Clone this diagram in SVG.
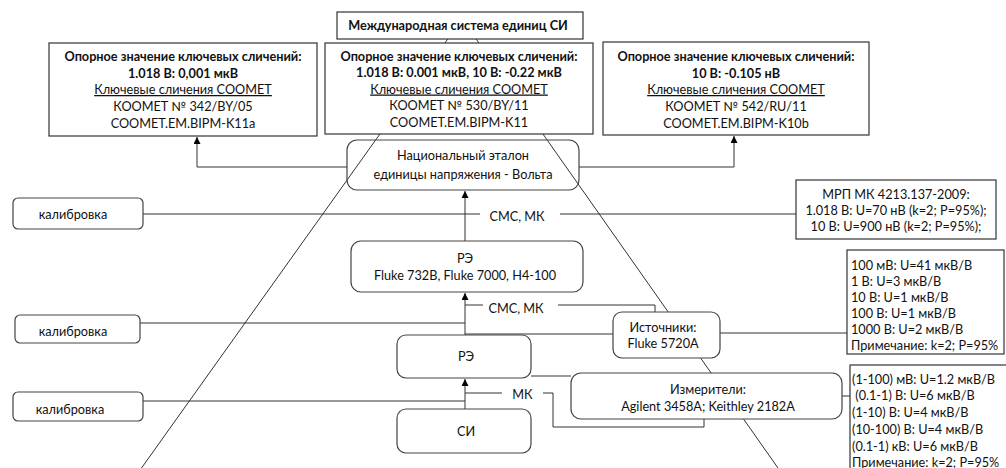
<svg xmlns="http://www.w3.org/2000/svg" width="1006" height="468" viewBox="0 0 1006 468">
<defs>
<marker id="arr" viewBox="0 0 10 10" refX="10" refY="5" markerWidth="7" markerHeight="7" markerUnits="userSpaceOnUse" orient="auto">
<path d="M0,0 L10,5 L0,10 z" fill="#000"/>
</marker>
<style>
.ln{fill:none;stroke:#333;stroke-width:1}
.bx{fill:#fff;stroke:#333;stroke-width:1.2}
.rb{fill:#fff;stroke:#444;stroke-width:1.2}
.t{font-family:Lato,"Open Sans","Liberation Sans",sans-serif;font-size:12.7px;fill:#111}
.c{text-anchor:middle}
.b{font-weight:bold}
.u{text-decoration:underline}
</style>
</defs>
<rect width="1006" height="468" fill="#fff"/>

<g id="pyramid">
<path class="ln" d="M462,19 L141.5,468 M462,19 L778,468"/>
</g>

<g id="connectors">
<path class="ln" d="M347,167 H197 V137" marker-end="url(#arr)"/>
<path class="ln" d="M579,167 H734 V136" marker-end="url(#arr)"/>
<path class="ln" d="M465,241 V191" marker-end="url(#arr)"/>
<path class="ln" d="M143,214 H480 M560,214 H796"/>
<path class="ln" d="M465,335 V293" marker-end="url(#arr)"/>
<path class="ln" d="M140,323 H465"/>
<path class="ln" d="M465,305 H483 M558,305 H655 V312"/>
<path class="ln" d="M465,334 H613"/>
<path class="ln" d="M531,376 H571"/>
<path class="ln" d="M465,409 V379" marker-end="url(#arr)"/>
<path class="ln" d="M143,401 H465"/>
<path class="ln" d="M465,393 H502 M543,393 H553 V427 H704 V419"/>
<path class="ln" d="M720,333 H847"/>
<path class="ln" d="M842,396 H850"/>
<text class="t c" x="517" y="220.5">СМС, МК</text>
<text class="t c" x="516" y="312.5">СМС, МК</text>
<text class="t c" x="522.5" y="398.5">МК</text>
</g>

<g id="si-system">
<rect class="bx" x="337" y="12" width="246" height="27"/>
<text class="t c b" x="458" y="30">Международная система единиц СИ</text>
</g>

<g id="ref-k11a">
<rect class="bx" x="49" y="43" width="268" height="93"/>
<text class="t c b" x="183" y="61">Опорное значение ключевых сличений:</text>
<text class="t c b" x="183" y="77.5">1.018 В: 0,001 мкВ</text>
<text class="t c u" x="183" y="94">Ключевые сличения COOMET</text>
<text class="t c" x="183" y="110.5">КООМЕТ № 342/BY/05</text>
<text class="t c" x="183" y="127.5">COOMET.EM.BIPM-K11a</text>
</g>

<g id="ref-k11">
<rect class="bx" x="325" y="43" width="268" height="91"/>
<text class="t c b" x="459" y="61">Опорное значение ключевых сличений:</text>
<text class="t c b" x="459" y="77">1.018 В: 0.001 мкВ, 10 В: -0.22 мкВ</text>
<text class="t c u" x="459" y="93.5">Ключевые сличения COOMET</text>
<text class="t c" x="459" y="110">КООМЕТ № 530/BY/11</text>
<text class="t c" x="459" y="127">COOMET.EM.BIPM-K11</text>
</g>

<g id="ref-k10b">
<rect class="bx" x="603" y="42" width="266" height="93"/>
<text class="t c b" x="736" y="61">Опорное значение ключевых сличений:</text>
<text class="t c b" x="736" y="77.5">10 В: -0.105 нВ</text>
<text class="t c u" x="736" y="94">Ключевые сличения COOMET</text>
<text class="t c" x="736" y="110.5">КООМЕТ № 542/RU/11</text>
<text class="t c" x="736" y="127.5">COOMET.EM.BIPM-K10b</text>
</g>

<g id="etalon">
<rect x="347" y="140" width="232" height="50" rx="10" fill="none" stroke="#444" stroke-width="1.2"/>
<text class="t c" x="463" y="159.5">Национальный эталон</text>
<text class="t c" x="463" y="178.5">единицы напряжения - Вольта</text>
</g>

<g id="cal-1">
<rect class="rb" x="13" y="198" width="130" height="31" rx="5"/>
<text class="t c" x="73" y="218.5">калибровка</text>
</g>

<g id="mrp">
<rect class="bx" x="796" y="180" width="200" height="59"/>
<text class="t c" x="896" y="198.5">МРП МК 4213.137-2009:</text>
<text class="t c" x="896" y="214.5">1.018 В: U=70 нВ (k=2; P=95%);</text>
<text class="t c" x="896" y="230.5">10 В: U=900 нВ (k=2; P=95%);</text>
</g>

<g id="re-1">
<rect class="rb" x="351" y="241" width="232" height="51" rx="10"/>
<text class="t c" x="465" y="262.5">РЭ</text>
<text class="t c" x="465" y="279.5">Fluke 732B, Fluke 7000, H4-100</text>
</g>

<g id="cal-2">
<rect class="rb" x="15" y="315" width="125" height="28" rx="5"/>
<text class="t c" x="73" y="336">калибровка</text>
</g>

<g id="re-2">
<rect class="rb" x="397" y="335" width="134" height="43" rx="9"/>
<text class="t c" x="466" y="360.5">РЭ</text>
</g>

<g id="sources">
<rect class="rb" x="613" y="312" width="107" height="46" rx="9"/>
<text class="t c" x="663" y="332">Источники:</text>
<text class="t c" x="663" y="348">Fluke 5720A</text>
</g>

<g id="sources-params">
<rect class="bx" x="847" y="250" width="157" height="104"/>
<text class="t" x="851" y="269.5">100 мВ: U=41 мкВ/В</text>
<text class="t" x="851" y="285.5">1 В: U=3 мкВ/В</text>
<text class="t" x="851" y="301.5">10 В: U=1 мкВ/В</text>
<text class="t" x="851" y="317.5">100 В: U=1 мкВ/В</text>
<text class="t" x="851" y="333.5">1000 В: U=2 мкВ/В</text>
<text class="t" x="851" y="349.5">Примечание: k=2; P=95%</text>
</g>

<g id="meters">
<rect class="rb" x="571" y="373" width="271" height="46" rx="10"/>
<text class="t c" x="708" y="393.5">Измерители:</text>
<text class="t c" x="708" y="410.5">Agilent 3458A; Keithley 2182A</text>
</g>

<g id="meters-params">
<rect class="bx" x="850" y="365" width="160" height="110"/>
<text class="t" x="852" y="383.5">(1-100) мВ: U=1.2 мкВ/В</text>
<text class="t" x="852" y="400" xml:space="preserve"> (0.1-1) В: U=6 мкВ/В</text>
<text class="t" x="852" y="417">(1-10) В: U=4 мкВ/В</text>
<text class="t" x="852" y="433.5">(10-100) В: U=4 мкВ/В</text>
<text class="t" x="852" y="450.5">(0.1-1) кВ: U=6 мкВ/В</text>
<text class="t" x="852" y="466.5">Примечание: k=2; P=95%</text>
</g>

<g id="cal-3">
<rect class="rb" x="13" y="392" width="130" height="29" rx="5"/>
<text class="t c" x="70" y="413.5">калибровка</text>
</g>

<g id="si">
<rect class="rb" x="397" y="409" width="134" height="44" rx="9"/>
<text class="t c" x="466" y="435.5">СИ</text>
</g>
</svg>
